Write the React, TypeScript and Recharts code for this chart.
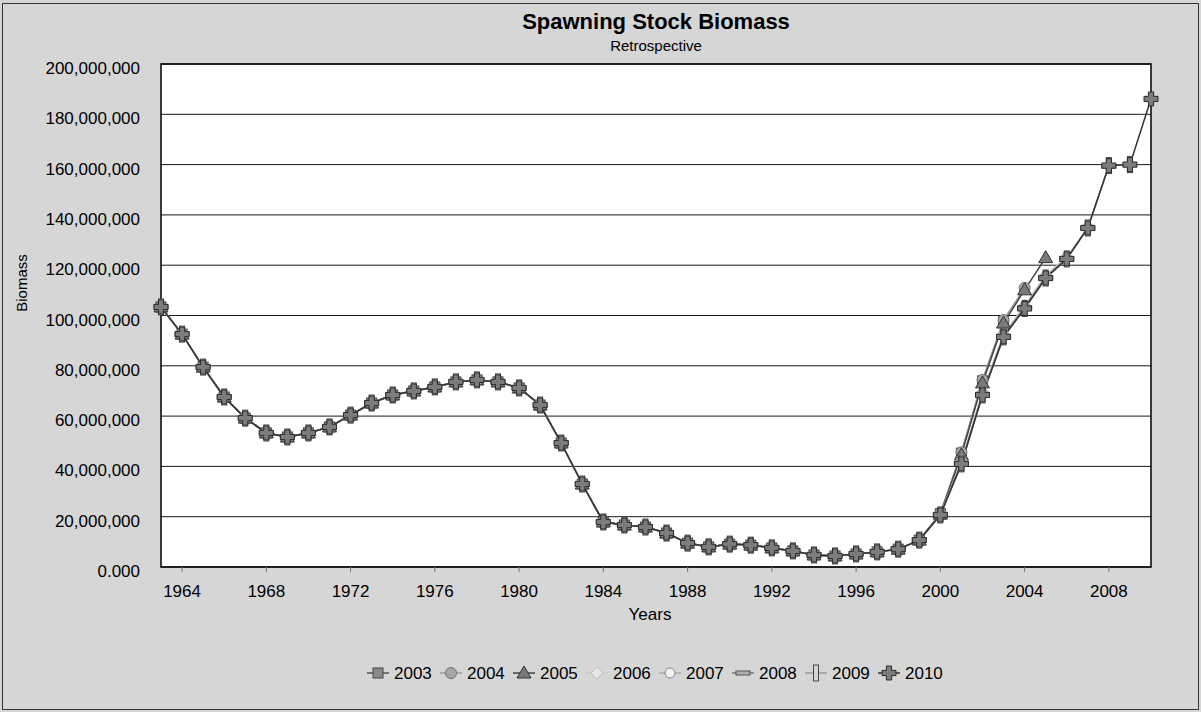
import React from "react";
import { LineChart, Line, XAxis, YAxis, CartesianGrid, ReferenceArea } from "recharts";

const FONT = "'Liberation Sans', Arial, sans-serif";

// years on the x axis
const YEARS = [
  1963, 1964, 1965, 1966, 1967, 1968, 1969, 1970, 1971, 1972, 1973, 1974,
  1975, 1976, 1977, 1978, 1979, 1980, 1981, 1982, 1983, 1984, 1985, 1986,
  1987, 1988, 1989, 1990, 1991, 1992, 1993, 1994, 1995, 1996, 1997, 1998,
  1999, 2000, 2001, 2002, 2003, 2004, 2005, 2006, 2007, 2008, 2009, 2010,
];

// 1963-1999, shared by every run (millions)
const HISTORY = [
  103.4, 92.6, 79.5, 67.6, 59.2, 53.3, 51.7, 53.3, 55.7, 60.4, 65.2, 68.4,
  70.0, 71.6, 73.6, 74.4, 73.6, 71.2, 64.4, 49.3, 33.0, 17.9, 16.7, 15.9,
  13.5, 9.5, 8.0, 9.1, 8.7, 7.6, 6.4, 4.8, 4.4, 5.2, 6.0, 7.1, 10.7,
];

// 2000 onwards, one list per retrospective run (millions)
const RUN_2003 = [21.2, 45.3, 74.0, 97.6];
const RUN_2004 = [21.3, 45.6, 74.4, 98.2, 111.0];
const RUN_2005 = [21.0, 44.6, 73.2, 97.0, 110.2, 123.0];
const RUN_2006 = [20.8, 42.2, 69.6, 92.6, 104.0, 116.0, 123.3];
const RUN_2007 = [20.7, 41.6, 69.0, 92.0, 103.4, 115.4, 122.8, 135.0];
const RUN_2008 = [20.7, 41.2, 68.6, 91.6, 103.0, 115.0, 122.6, 134.8, 159.4];
const RUN_2009 = [20.7, 41.0, 68.4, 91.5, 102.8, 114.9, 122.5, 134.8, 159.6, 160.0];
const RUN_2010 = [20.7, 41.0, 68.4, 91.5, 102.8, 114.9, 122.5, 134.8, 159.6, 160.0, 186.1];

const Y_TICKS = [0, 20, 40, 60, 80, 100, 120, 140, 160, 180, 200];
const X_TICKS = [1964, 1968, 1972, 1976, 1980, 1984, 1988, 1992, 1996, 2000, 2004, 2008];

type Kind = "square" | "circle" | "triangle" | "diamond" | "ring" | "dash" | "bar" | "cross";

const SERIES: { key: string; name: string; recent: number[]; stroke: string; kind: Kind }[] = [
  { key: "r2003", name: "2003", recent: RUN_2003, stroke: "#555", kind: "square" },
  { key: "r2004", name: "2004", recent: RUN_2004, stroke: "#9a9a9a", kind: "circle" },
  { key: "r2005", name: "2005", recent: RUN_2005, stroke: "#444", kind: "triangle" },
  { key: "r2006", name: "2006", recent: RUN_2006, stroke: "#c8c8c8", kind: "diamond" },
  { key: "r2007", name: "2007", recent: RUN_2007, stroke: "#aaa", kind: "ring" },
  { key: "r2008", name: "2008", recent: RUN_2008, stroke: "#777", kind: "dash" },
  { key: "r2009", name: "2009", recent: RUN_2009, stroke: "#999", kind: "bar" },
  { key: "r2010", name: "2010", recent: RUN_2010, stroke: "#333", kind: "cross" },
];

const rows = YEARS.map((year, i) => {
  const row: Record<string, number | undefined> = { year };
  SERIES.forEach((s) => {
    row[s.key] = i < HISTORY.length ? HISTORY[i] : s.recent[i - HISTORY.length];
  });
  return row;
});

function Marker({ kind, cx, cy }: { kind: Kind; cx: number; cy: number }) {
  switch (kind) {
    case "square":
      return <rect x={cx - 5} y={cy - 5} width={10} height={10} fill="#8a8a8a" stroke="#444" />;
    case "circle":
      return <circle cx={cx} cy={cy} r={5.5} fill="#a8a8a8" stroke="#707070" />;
    case "triangle":
      return (
        <polygon
          points={`${cx},${cy - 7} ${cx + 7},${cy + 5} ${cx - 7},${cy + 5}`}
          fill="#7a7a7a"
          stroke="#333"
        />
      );
    case "diamond":
      return (
        <polygon
          points={`${cx},${cy - 6} ${cx + 6},${cy} ${cx},${cy + 6} ${cx - 6},${cy}`}
          fill="#e6e6e6"
          stroke="#bbb"
        />
      );
    case "ring":
      return <circle cx={cx} cy={cy} r={5} fill="#f2f2f2" stroke="#888" />;
    case "dash":
      return <rect x={cx - 7} y={cy - 2} width={14} height={4} fill="#b0b0b0" stroke="#555" />;
    case "bar":
      return <rect x={cx - 2.5} y={cy - 8} width={5} height={16} fill="#d4d4d4" stroke="#444" />;
    case "cross": {
      const a = 7;
      const w = 2.6;
      const d = `M${cx - w},${cy - a}H${cx + w}V${cy - w}H${cx + a}V${cy + w}H${cx + w}V${cy + a}H${cx - w}V${cy + w}H${cx - a}V${cy - w}H${cx - w}Z`;
      return <path d={d} fill="#7c7c7c" stroke="#2a2a2a" strokeWidth={1} />;
    }
  }
}

function fmtY(v: number): string {
  if (v === 0) return "0.000";
  return (v * 1e6).toLocaleString("en-US");
}

function YTick(props: any) {
  const { x, y, payload } = props;
  return (
    <text x={x} y={y + 4} dy="0.355em" textAnchor="end" fontSize={17} fill="#000" fontFamily={FONT}>
      {fmtY(payload.value)}
    </text>
  );
}

export default function App() {
  return (
    <div
      style={{
        position: "absolute",
        left: 0,
        top: 0,
        width: 1201,
        height: 712,
        background: "#d6d6d6",
        fontFamily: FONT,
      }}
    >
      <LineChart width={1201} height={712} data={rows} margin={{ top: 64, right: 50, bottom: 115, left: 0 }}>
        <CartesianGrid horizontal vertical={false} stroke="#1a1a1a" fill="#fff" strokeOpacity={1} />
        <XAxis
          dataKey="year"
          type="number"
          domain={[1963, 2010]}
          ticks={X_TICKS}
          interval={0}
          height={30}
          axisLine={false}
          tickLine={{ stroke: "#777" }}
          tickSize={5}
          tickMargin={13}
          tick={{ fontSize: 17, fill: "#000", fontFamily: FONT }}
        />
        <YAxis
          type="number"
          domain={[0, 200]}
          ticks={Y_TICKS}
          interval={0}
          width={161}
          axisLine={false}
          tickLine={false}
          tickSize={8}
          tickMargin={13}
          tick={<YTick />}
        />
        <ReferenceArea x1={1963} x2={2010} y1={0} y2={200} fill="none" stroke="#000" strokeWidth={1.5} />
        {SERIES.map((s) => (
          <Line
            key={s.key}
            dataKey={s.key}
            name={s.name}
            stroke={s.stroke}
            strokeWidth={1.5}
            isAnimationActive={false}
            connectNulls={false}
            dot={(p: any) =>
              p.cy == null || p.value == null ? (
                <g key={`${s.key}-${p.index}`} />
              ) : (
                <g key={`${s.key}-${p.index}`}>
                  <Marker kind={s.kind} cx={p.cx} cy={p.cy} />
                </g>
              )
            }
            activeDot={false}
          />
        ))}
      </LineChart>

      <svg
        width={1201}
        height={712}
        style={{ position: "absolute", left: 0, top: 0, pointerEvents: "none" }}
        fontFamily={FONT}
      >
        <rect x={2.5} y={3.5} width={1196} height={706} fill="none" stroke="#333" />
        <text x={656} y={29} textAnchor="middle" fontSize={22} fontWeight="bold" fill="#000">
          Spawning Stock Biomass
        </text>
        <text x={656} y={51} textAnchor="middle" fontSize={15} fill="#000">
          Retrospective
        </text>
        <text x={27} y={283} textAnchor="middle" fontSize={15} fill="#000" transform="rotate(-90 27 283)">
          Biomass
        </text>
        <text x={650} y={620} textAnchor="middle" fontSize={17} fill="#000">
          Years
        </text>
        {SERIES.map((s, i) => {
          const cx = 378 + 73 * i;
          return (
            <g key={s.key}>
              <line x1={cx - 11} x2={cx + 11} y1={673} y2={673} stroke={s.stroke} strokeWidth={1.5} />
              <Marker kind={s.kind} cx={cx} cy={673} />
              <text x={394 + 73 * i} y={679} fontSize={17} fill="#000">
                {s.name}
              </text>
            </g>
          );
        })}
      </svg>
    </div>
  );
}
